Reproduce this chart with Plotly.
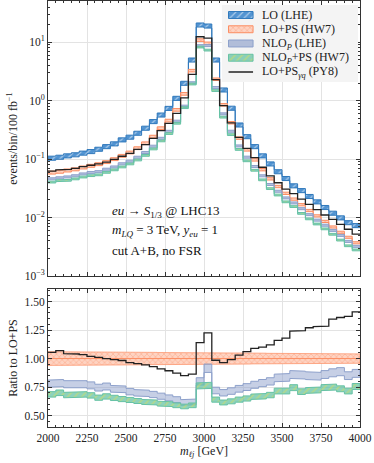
import numpy as np
import plotly.graph_objects as go
from plotly.subplots import make_subplots

# 50 GeV bins from 2000 to 4000 GeV
bin_edges = list(range(2000, 4001, 50))

# events/bin/100 fb^-1
lo_lhe = [0.104, 0.108, 0.114, 0.119, 0.127, 0.135, 0.148, 0.164, 0.183, 0.214,
          0.238, 0.278, 0.339, 0.44, 0.57, 0.74, 1.10, 1.99, 4.98, 19.8,
          19.0, 4.98, 1.53, 0.745, 0.385, 0.243, 0.164, 0.114, 0.083, 0.061,
          0.0467, 0.035, 0.029, 0.023, 0.0186, 0.0149, 0.0119, 0.0099, 0.0082, 0.0073]
lo_ps_hw7 = [0.059, 0.061, 0.064, 0.067, 0.072, 0.077, 0.082, 0.089, 0.100, 0.114,
             0.130, 0.154, 0.187, 0.243, 0.339, 0.457, 0.697, 1.31, 3.27, 10.9,
             9.6, 2.33, 0.85, 0.42, 0.229, 0.144, 0.097, 0.066, 0.046, 0.034,
             0.026, 0.0207, 0.0166, 0.0132, 0.0107, 0.0086, 0.0069, 0.0056, 0.0046, 0.0037]
# relative scale uncertainty of LO+PS (half width)
lo_ps_unc = [0.060, 0.060, 0.059, 0.059, 0.058, 0.058, 0.057, 0.057, 0.056, 0.056,
             0.055, 0.055, 0.054, 0.054, 0.053, 0.053, 0.052, 0.052, 0.051, 0.051,
             0.050, 0.050, 0.049, 0.049, 0.048, 0.048, 0.047, 0.047, 0.046, 0.046,
             0.045, 0.045, 0.044, 0.044, 0.043, 0.043, 0.042, 0.042, 0.041, 0.041]
lo_lhe_unc = 0.08
nlo_unc = 0.04
nlo_ps_unc = 0.035

# ratios to LO+PS
nlo_lhe_ratio = [0.78, 0.785, 0.775, 0.775, 0.775, 0.765, 0.745, 0.755, 0.735, 0.73,
                 0.71, 0.70, 0.695, 0.685, 0.67, 0.655, 0.64, 0.615, 0.62, 0.80,
                 0.915, 0.72, 0.70, 0.715, 0.735, 0.75, 0.77, 0.785, 0.80, 0.83,
                 0.835, 0.86, 0.855, 0.85, 0.845, 0.86, 0.875, 0.885, 0.85, 0.87]
nlo_ps_ratio = [0.686, 0.70, 0.68, 0.685, 0.686, 0.677, 0.657, 0.668, 0.655, 0.645,
                0.637, 0.628, 0.62, 0.615, 0.605, 0.60, 0.59, 0.58, 0.59, 0.76,
                0.765, 0.64, 0.615, 0.625, 0.64, 0.65, 0.665, 0.67, 0.68, 0.715,
                0.715, 0.745, 0.71, 0.72, 0.725, 0.745, 0.75, 0.735, 0.715, 0.755]
py8_ratio = [1.055, 1.07, 1.044, 1.04, 1.035, 1.02, 1.01, 1.0, 0.99, 0.983,
             0.965, 0.955, 0.945, 0.93, 0.91, 0.893, 0.873, 0.85, 0.864, 1.14,
             1.225, 0.985, 0.965, 0.99, 1.03, 1.06, 1.09, 1.10, 1.12, 1.16,
             1.18, 1.24, 1.245, 1.27, 1.28, 1.285, 1.345, 1.36, 1.37, 1.41]

legend_labels = ["LO (LHE)", "LO+PS (HW7)", "NLO<sub><i>P</i></sub> (LHE)",
                 "NLO<sub><i>P</i></sub>+PS (HW7)", "LO+PS<sub><i>γq</i></sub> (PY8)"]

edges = np.array(bin_edges)
lo = np.array(lo_lhe)
lops = np.array(lo_ps_hw7)
lops_u = np.array(lo_ps_unc)
nlo = lops * np.array(nlo_lhe_ratio)
nlops = lops * np.array(nlo_ps_ratio)
py8 = lops * np.array(py8_ratio)

BLUE = "#2f78bb"
ORANGE = "#fc8d62"
PURPLE = "#8da0cb"
GREEN = "#66c2a5"
BLACK = "#222222"
FONT = "Liberation Serif"


def steps(vals):
    xs, ys = [], []
    for i, v in enumerate(vals):
        xs += [edges[i], edges[i + 1]]
        ys += [v, v]
    return xs, ys


def band(lower, upper):
    xu, yu = steps(upper)
    xl, yl = steps(lower)
    return xu + xl[::-1] + [xu[0]], yu + yl[::-1] + [yu[0]]


fig = make_subplots(rows=2, cols=1, shared_xaxes=True)

blue_pat = dict(shape="/", bgcolor="#5294d2", fgcolor="white", size=5, solidity=0.25)
orange_pat = dict(shape="x", bgcolor="#fed3c2", fgcolor=ORANGE, size=4, solidity=0.3)
green_pat = dict(shape="/", bgcolor="rgba(102,194,165,0.75)", fgcolor="#d8e05a", size=5, solidity=0.3)
purple_fill = "rgba(141,160,203,0.65)"

styles = [
    dict(edge=BLUE, pattern=blue_pat),
    dict(edge=ORANGE, pattern=orange_pat),
    dict(edge=PURPLE, fillcolor=purple_fill),
    dict(edge=GREEN, pattern=green_pat),
]


def add_poly(x, y, style, **where):
    kw = {}
    if "fillcolor" in style:
        kw["fillcolor"] = style["fillcolor"]
    if "pattern" in style:
        kw["fillpattern"] = style["pattern"]
    fig.add_trace(go.Scatter(x=x, y=y, mode="lines", fill="toself", showlegend=False,
                             line=dict(color=style["edge"], width=1),
                             hoverinfo="skip", **kw), **where)


def add_band(lower, upper, row, style):
    x, y = band(lower, upper)
    add_poly(x, y, style, row=row, col=1)


# upper panel
add_band(lo * (1 - lo_lhe_unc), lo * (1 + lo_lhe_unc), 1, styles[0])
add_band(lops * (1 - lops_u), lops * (1 + lops_u), 1, styles[1])
add_band(nlo * (1 - nlo_unc), nlo * (1 + nlo_unc), 1, styles[2])
add_band(nlops * (1 - nlo_ps_unc), nlops * (1 + nlo_ps_unc), 1, styles[3])
xs, ys = steps(py8)
fig.add_trace(go.Scatter(x=xs, y=ys, mode="lines", showlegend=False,
                         line=dict(color=BLACK, width=1.3)), row=1, col=1)

# ratio panel
one = np.ones(len(lops))
add_band(one - lops_u, one + lops_u, 2, dict(edge="rgba(252,141,98,0.7)", pattern=orange_pat))
xs, ys = steps(one)
fig.add_trace(go.Scatter(x=xs, y=ys, mode="lines", showlegend=False,
                         line=dict(color=ORANGE, width=1)), row=2, col=1)
r_nlo = np.array(nlo_lhe_ratio)
add_band(r_nlo * (1 - nlo_unc), r_nlo * (1 + nlo_unc), 2,
         dict(edge=PURPLE, fillcolor="rgba(141,160,203,0.5)"))
r_nlops = np.array(nlo_ps_ratio)
add_band(r_nlops * (1 - nlo_ps_unc), r_nlops * (1 + nlo_ps_unc), 2, styles[3])
xs, ys = steps(py8_ratio)
fig.add_trace(go.Scatter(x=xs, y=ys, mode="lines", showlegend=False,
                         line=dict(color=BLACK, width=1.3)), row=2, col=1)

# legend drawn on an overlay axis (pixel-like coordinates)
leg = dict(xref="x3", yref="y3")
fig.add_trace(go.Scatter(x=[0, 100, 100, 0, 0], y=[0, 0, 100, 100, 0], mode="lines",
                         fill="toself", fillcolor="rgba(243,243,243,0.92)",
                         line=dict(width=0), showlegend=False, hoverinfo="skip",
                         xaxis="x3", yaxis="y3"))
row_y = [13, 31.5, 50, 68.5, 87]
for i, lab in enumerate(legend_labels):
    yc = row_y[i]
    if i < 4:
        add_poly([5, 23, 23, 5, 5], [yc - 4.5, yc - 4.5, yc + 4.5, yc + 4.5, yc - 4.5],
                 styles[i])
        fig.data[-1].update(xaxis="x3", yaxis="y3")
    else:
        fig.add_trace(go.Scatter(x=[5, 23], y=[yc, yc], mode="lines", showlegend=False,
                                 line=dict(color=BLACK, width=1.3), xaxis="x3", yaxis="y3"))
    fig.add_annotation(text=lab, x=28, y=yc, xanchor="left", yanchor="middle",
                       showarrow=False, font=dict(size=12, family=FONT, color=BLACK), **leg)

axis_common = dict(showline=True, linecolor="#333333", linewidth=1, mirror="allticks",
                   ticks="inside", ticklen=4, tickcolor="#333333",
                   gridcolor="#e3e3e3", gridwidth=1, zeroline=False)

fig.update_xaxes(range=[2000, 4000], dtick=250, tick0=2000,
                 minor=dict(dtick=50, ticks="inside", ticklen=2, tickcolor="#333333", showgrid=False),
                 **axis_common)
fig.update_xaxes(showticklabels=False, row=1, col=1)
fig.update_xaxes(title=dict(text="<i>m</i><sub><i>ℓj</i></sub> [GeV]", standoff=2,
                            font=dict(size=12)), row=2, col=1)

decades = [-3, -2, -1, 0, 1]
minor_y = [m * 10.0 ** d for d in decades for m in range(2, 10)]
fig.update_yaxes(type="log", range=[-3, 1.706], domain=[0.3545, 1.0],
                 tickmode="array", tickvals=[10.0 ** d for d in decades],
                 ticktext=["10<sup>%d</sup>" % d if d >= 0 else "10<sup>−%d</sup>" % -d for d in decades],
                 minor=dict(tickmode="array", tickvals=minor_y, ticks="inside", ticklen=2,
                            tickcolor="#333333", showgrid=False),
                 title=dict(text="events/bin/100 fb<sup>−1</sup>", standoff=4, font=dict(size=12)),
                 row=1, col=1, **axis_common)
fig.update_yaxes(range=[0.4, 1.61], domain=[0.0, 0.324], dtick=0.25, tick0=0.5, tickformat=".2f",
                 minor=dict(dtick=0.05, ticks="inside", ticklen=2, tickcolor="#333333", showgrid=False),
                 title=dict(text="Ratio to LO+PS", standoff=4, font=dict(size=12)),
                 row=2, col=1, **axis_common)

text_lines = ["<i>eu</i> → <i>S</i><sub>1/3</sub> @ LHC13",
              "<i>m<sub>LQ</sub></i> = 3 TeV, <i>y<sub>eu</sub></i> = 1",
              "cut A+B, no FSR"]
for i, t in enumerate(text_lines):
    fig.add_annotation(text=t, xref="paper", yref="paper", x=0.199, y=(427 - 211 - 19.5 * i) / 426,
                       xanchor="left", yanchor="middle", showarrow=False,
                       font=dict(size=13, family=FONT, color="#111111"))

fig.update_layout(
    width=374, height=463,
    margin=dict(l=48, r=14, t=1, b=36),
    plot_bgcolor="white", paper_bgcolor="white",
    font=dict(family=FONT, size=11.5, color=BLACK),
    showlegend=False,
    xaxis3=dict(domain=[(221.7 - 48) / 312, (358 - 48) / 312], range=[0, 100],
                visible=False, fixedrange=True, anchor="y3"),
    yaxis3=dict(domain=[(427 - 82) / 426, (427 - 5) / 426], range=[100, 0],
                visible=False, fixedrange=True, anchor="x3"),
)

# the page body has a default 8px margin; remove it so the figure sits at the window corner
fig.write_html("out.html", config={"displayModeBar": False},
               post_script="document.body.style.margin='0';")
